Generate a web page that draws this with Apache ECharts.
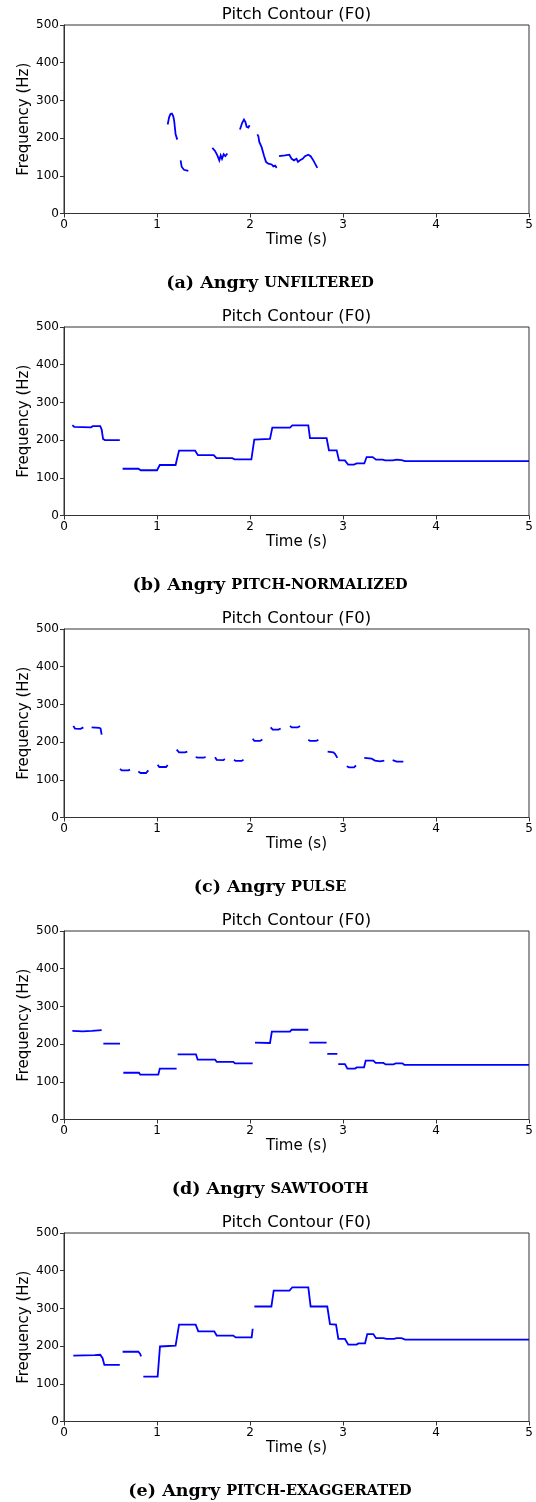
<!DOCTYPE html>
<html>
<head>
<meta charset="utf-8">
<script src="https://cdn.jsdelivr.net/npm/echarts@6/dist/echarts.min.js"></script>
<style>
  html, body { margin: 0; padding: 0; background: #fff; }
  #main { width: 536px; height: 1502px; }
</style>
</head>
<body>
<div id="main"></div>
<script>
// tick labels shared by every panel
const timeTicks = [0, 1, 2, 3, 4, 5]
const freqTicks = [0, 100, 200, 300, 400, 500]

// captions under each panel
const captionLabels = ['(a) Angry ', '(b) Angry ', '(c) Angry ', '(d) Angry ', '(e) Angry ']
const captionVariants = ['UNFILTERED', 'PITCH-NORMALIZED', 'PULSE', 'SAWTOOTH', 'PITCH-EXAGGERATED']

// (a) unfiltered F0 contour, voiced pieces as [time s, Hz]
const unfiltered = [
  [[1.115, 236], [1.13, 255], [1.145, 264], [1.16, 265], [1.175, 258], [1.185, 245], [1.2, 210], [1.218, 196]],
  [[1.254, 141], [1.265, 124], [1.29, 116], [1.337, 113]],
  [[1.595, 174], [1.624, 166], [1.649, 154], [1.67, 141], [1.685, 154], [1.699, 145], [1.717, 157], [1.735, 152], [1.756, 159]],
  [[1.892, 223], [1.915, 240], [1.935, 249], [1.95, 243], [1.964, 230], [1.982, 228], [1.996, 234]],
  [[2.079, 210], [2.09, 205], [2.1, 190], [2.125, 176], [2.15, 154], [2.172, 137], [2.197, 132], [2.233, 130], [2.251, 125], [2.27, 127], [2.287, 121]],
  [[2.312, 152], [2.376, 154], [2.423, 156], [2.448, 145], [2.473, 141], [2.5, 145], [2.516, 137], [2.538, 141], [2.566, 145], [2.591, 152], [2.627, 156], [2.652, 152], [2.681, 141], [2.724, 121]]
]

// (b) pitch-normalized
const normalized = [
  [[0.09, 240], [0.11, 235], [0.29, 234], [0.31, 237], [0.39, 237], [0.405, 228], [0.42, 203], [0.44, 200], [0.6, 200]],
  [[0.63, 124], [0.8, 124], [0.825, 120], [1.0, 120], [1.03, 134], [1.2, 134], [1.215, 150], [1.237, 172], [1.41, 172], [1.44, 160],
   [1.61, 160], [1.64, 152], [1.81, 152], [1.835, 149], [2.015, 149], [2.03, 175], [2.046, 201], [2.215, 203], [2.24, 233], [2.43, 233],
   [2.455, 239], [2.627, 239], [2.645, 205], [2.824, 205], [2.849, 173], [2.932, 173], [2.957, 146], [3.02, 146], [3.055, 135], [3.118, 135],
   [3.147, 138], [3.229, 138], [3.254, 155], [3.319, 155], [3.355, 148], [3.427, 148], [3.452, 146], [3.534, 146], [3.577, 148], [3.63, 147],
   [3.667, 144], [5, 144]]
]

// (c) pulse
const pulse = [
  [[0.1, 243], [0.118, 236], [0.179, 235], [0.208, 239]],
  [[0.297, 239], [0.38, 238], [0.393, 236], [0.405, 220]],
  [[0.602, 129], [0.62, 125], [0.692, 125], [0.71, 127]],
  [[0.799, 122], [0.824, 118], [0.882, 118], [0.907, 125]],
  [[1.007, 140], [1.025, 134], [1.097, 134], [1.115, 139]],
  [[1.211, 180], [1.237, 173], [1.301, 173], [1.326, 175]],
  [[1.416, 160], [1.44, 159], [1.5, 159], [1.523, 160]],
  [[1.624, 160], [1.642, 153], [1.713, 152], [1.73, 155]],
  [[1.828, 153], [1.846, 150], [1.91, 150], [1.93, 153]],
  [[2.029, 209], [2.047, 203], [2.108, 203], [2.133, 207]],
  [[2.222, 239], [2.244, 233], [2.305, 233], [2.33, 236]],
  [[2.43, 243], [2.448, 239], [2.513, 239], [2.538, 243]],
  [[2.627, 206], [2.645, 203], [2.71, 203], [2.735, 206]],
  [[2.835, 175], [2.896, 173], [2.914, 169], [2.939, 158]],
  [[3.04, 136], [3.065, 133], [3.118, 133], [3.14, 138]],
  [[3.229, 158], [3.308, 156], [3.344, 151], [3.398, 149], [3.444, 151]],
  [[3.534, 152], [3.577, 148], [3.649, 148]]
]

// (d) sawtooth
const sawtooth = [
  [[0.09, 235], [0.2, 234], [0.3, 235], [0.405, 237]],
  [[0.423, 201], [0.602, 201]],
  [[0.638, 124], [0.806, 124], [0.82, 119], [1.014, 119], [1.03, 135], [1.211, 135]],
  [[1.222, 173], [1.419, 173], [1.437, 159], [1.624, 159], [1.642, 153], [1.82, 153], [1.839, 149], [2.029, 149]],
  [[2.054, 204], [2.215, 203], [2.235, 233], [2.43, 233], [2.448, 238], [2.627, 238]],
  [[2.638, 204], [2.824, 204]],
  [[2.831, 174], [2.939, 174]],
  [[2.949, 147], [3.021, 147], [3.047, 135], [3.129, 135], [3.147, 138], [3.226, 138], [3.244, 156], [3.326, 156], [3.351, 150], [3.434, 150],
   [3.459, 146], [3.541, 146], [3.566, 149], [3.638, 149], [3.659, 145], [5, 145]]
]

// (e) pitch-exaggerated
const exaggerated = [
  [[0.1, 175], [0.33, 176], [0.39, 177], [0.415, 168], [0.434, 150], [0.6, 150]],
  [[0.63, 185], [0.8, 185], [0.817, 180], [0.83, 173]],
  [[0.853, 119], [1.007, 119], [1.032, 199], [1.2, 201], [1.237, 257], [1.416, 257], [1.444, 239], [1.616, 239], [1.642, 228], [1.82, 228],
   [1.846, 223], [2.018, 223], [2.029, 246]],
  [[2.047, 305], [2.23, 305], [2.255, 347], [2.425, 347], [2.455, 356], [2.627, 356], [2.652, 305], [2.831, 305], [2.86, 258], [2.925, 257],
   [2.95, 219], [3.021, 219], [3.057, 204], [3.147, 204], [3.165, 207], [3.237, 207], [3.261, 232], [3.326, 232], [3.355, 221], [3.434, 221],
   [3.47, 219], [3.548, 219], [3.577, 221], [3.63, 221], [3.667, 217], [5, 217]]
]

const panels = [unfiltered, normalized, pulse, sawtooth, exaggerated]

const chart = echarts.init(document.getElementById('main'))

const PANEL_STEP = 302
const PLOT_LEFT = 64
const PLOT_W = 465
const PLOT_TOP = 25
const PLOT_H = 188.5
const sans = 'DejaVu Sans'

const grids = []
const xAxes = []
const yAxes = []
const series = []
const graphics = []

panels.forEach((segs, i) => {
  const top = PLOT_TOP + i * PANEL_STEP
  grids.push({
    left: PLOT_LEFT, top: top, width: PLOT_W, height: PLOT_H,
    show: true, borderColor: '#333', borderWidth: 1, backgroundColor: '#fff'
  })
  xAxes.push({
    gridIndex: i,
    type: 'value',
    min: timeTicks[0],
    max: timeTicks[timeTicks.length - 1],
    interval: 1,
    name: 'Time (s)',
    nameLocation: 'middle',
    nameGap: 19.5,
    nameMoveOverlap: false,
    nameTextStyle: { color: '#000', fontSize: 15, fontFamily: sans },
    axisLine: { lineStyle: { color: '#333', width: 1 } },
    axisTick: { show: true, length: 4, lineStyle: { color: '#333' } },
    axisLabel: { color: '#000', fontSize: 12, fontFamily: sans, margin: 5 },
    splitLine: { show: false }
  })
  yAxes.push({
    gridIndex: i,
    type: 'value',
    min: freqTicks[0],
    max: freqTicks[freqTicks.length - 1],
    interval: 100,
    name: 'Frequency (Hz)',
    nameLocation: 'middle',
    nameGap: 32,
    nameMoveOverlap: false,
    nameTextStyle: { color: '#000', fontSize: 15, fontFamily: sans },
    axisLine: { show: true, lineStyle: { color: '#333', width: 1 } },
    axisTick: { show: true, length: 4, lineStyle: { color: '#333' } },
    axisLabel: { color: '#000', fontSize: 12, fontFamily: sans, margin: 5 },
    splitLine: { show: false }
  })
  // lines series keeps every vertex (plain line series drops close points)
  series.push({
    type: 'lines',
    coordinateSystem: 'cartesian2d',
    xAxisIndex: i,
    yAxisIndex: i,
    polyline: true,
    silent: true,
    animation: false,
    data: segs.map((seg) => ({ coords: seg })),
    lineStyle: { color: '#0000ff', width: 1.8, opacity: 1, curveness: 0 }
  })
  // panel title
  graphics.push({
    type: 'text',
    x: PLOT_LEFT + PLOT_W / 2,
    y: top - 10.5,
    style: {
      text: 'Pitch Contour (F0)',
      fill: '#000',
      font: '16.5px "DejaVu Sans"',
      textAlign: 'center',
      textVerticalAlign: 'middle'
    }
  })
  // caption under the panel
  graphics.push({
    type: 'text',
    x: 270,
    y: top + 258.5,
    style: {
      text: '{n|' + captionLabels[i] + '}{s|' + captionVariants[i] + '}',
      textAlign: 'center',
      textVerticalAlign: 'middle',
      rich: {
        n: { fontFamily: 'DejaVu Serif', fontWeight: 'bold', fontSize: 17.5, fill: '#000' },
        s: { fontFamily: 'DejaVu Serif', fontWeight: 'bold', fontSize: 14.5, fill: '#000' }
      }
    }
  })
})

chart.setOption({
  animation: false,
  grid: grids,
  xAxis: xAxes,
  yAxis: yAxes,
  series: series,
  graphic: graphics
})
</script>
</body>
</html>
